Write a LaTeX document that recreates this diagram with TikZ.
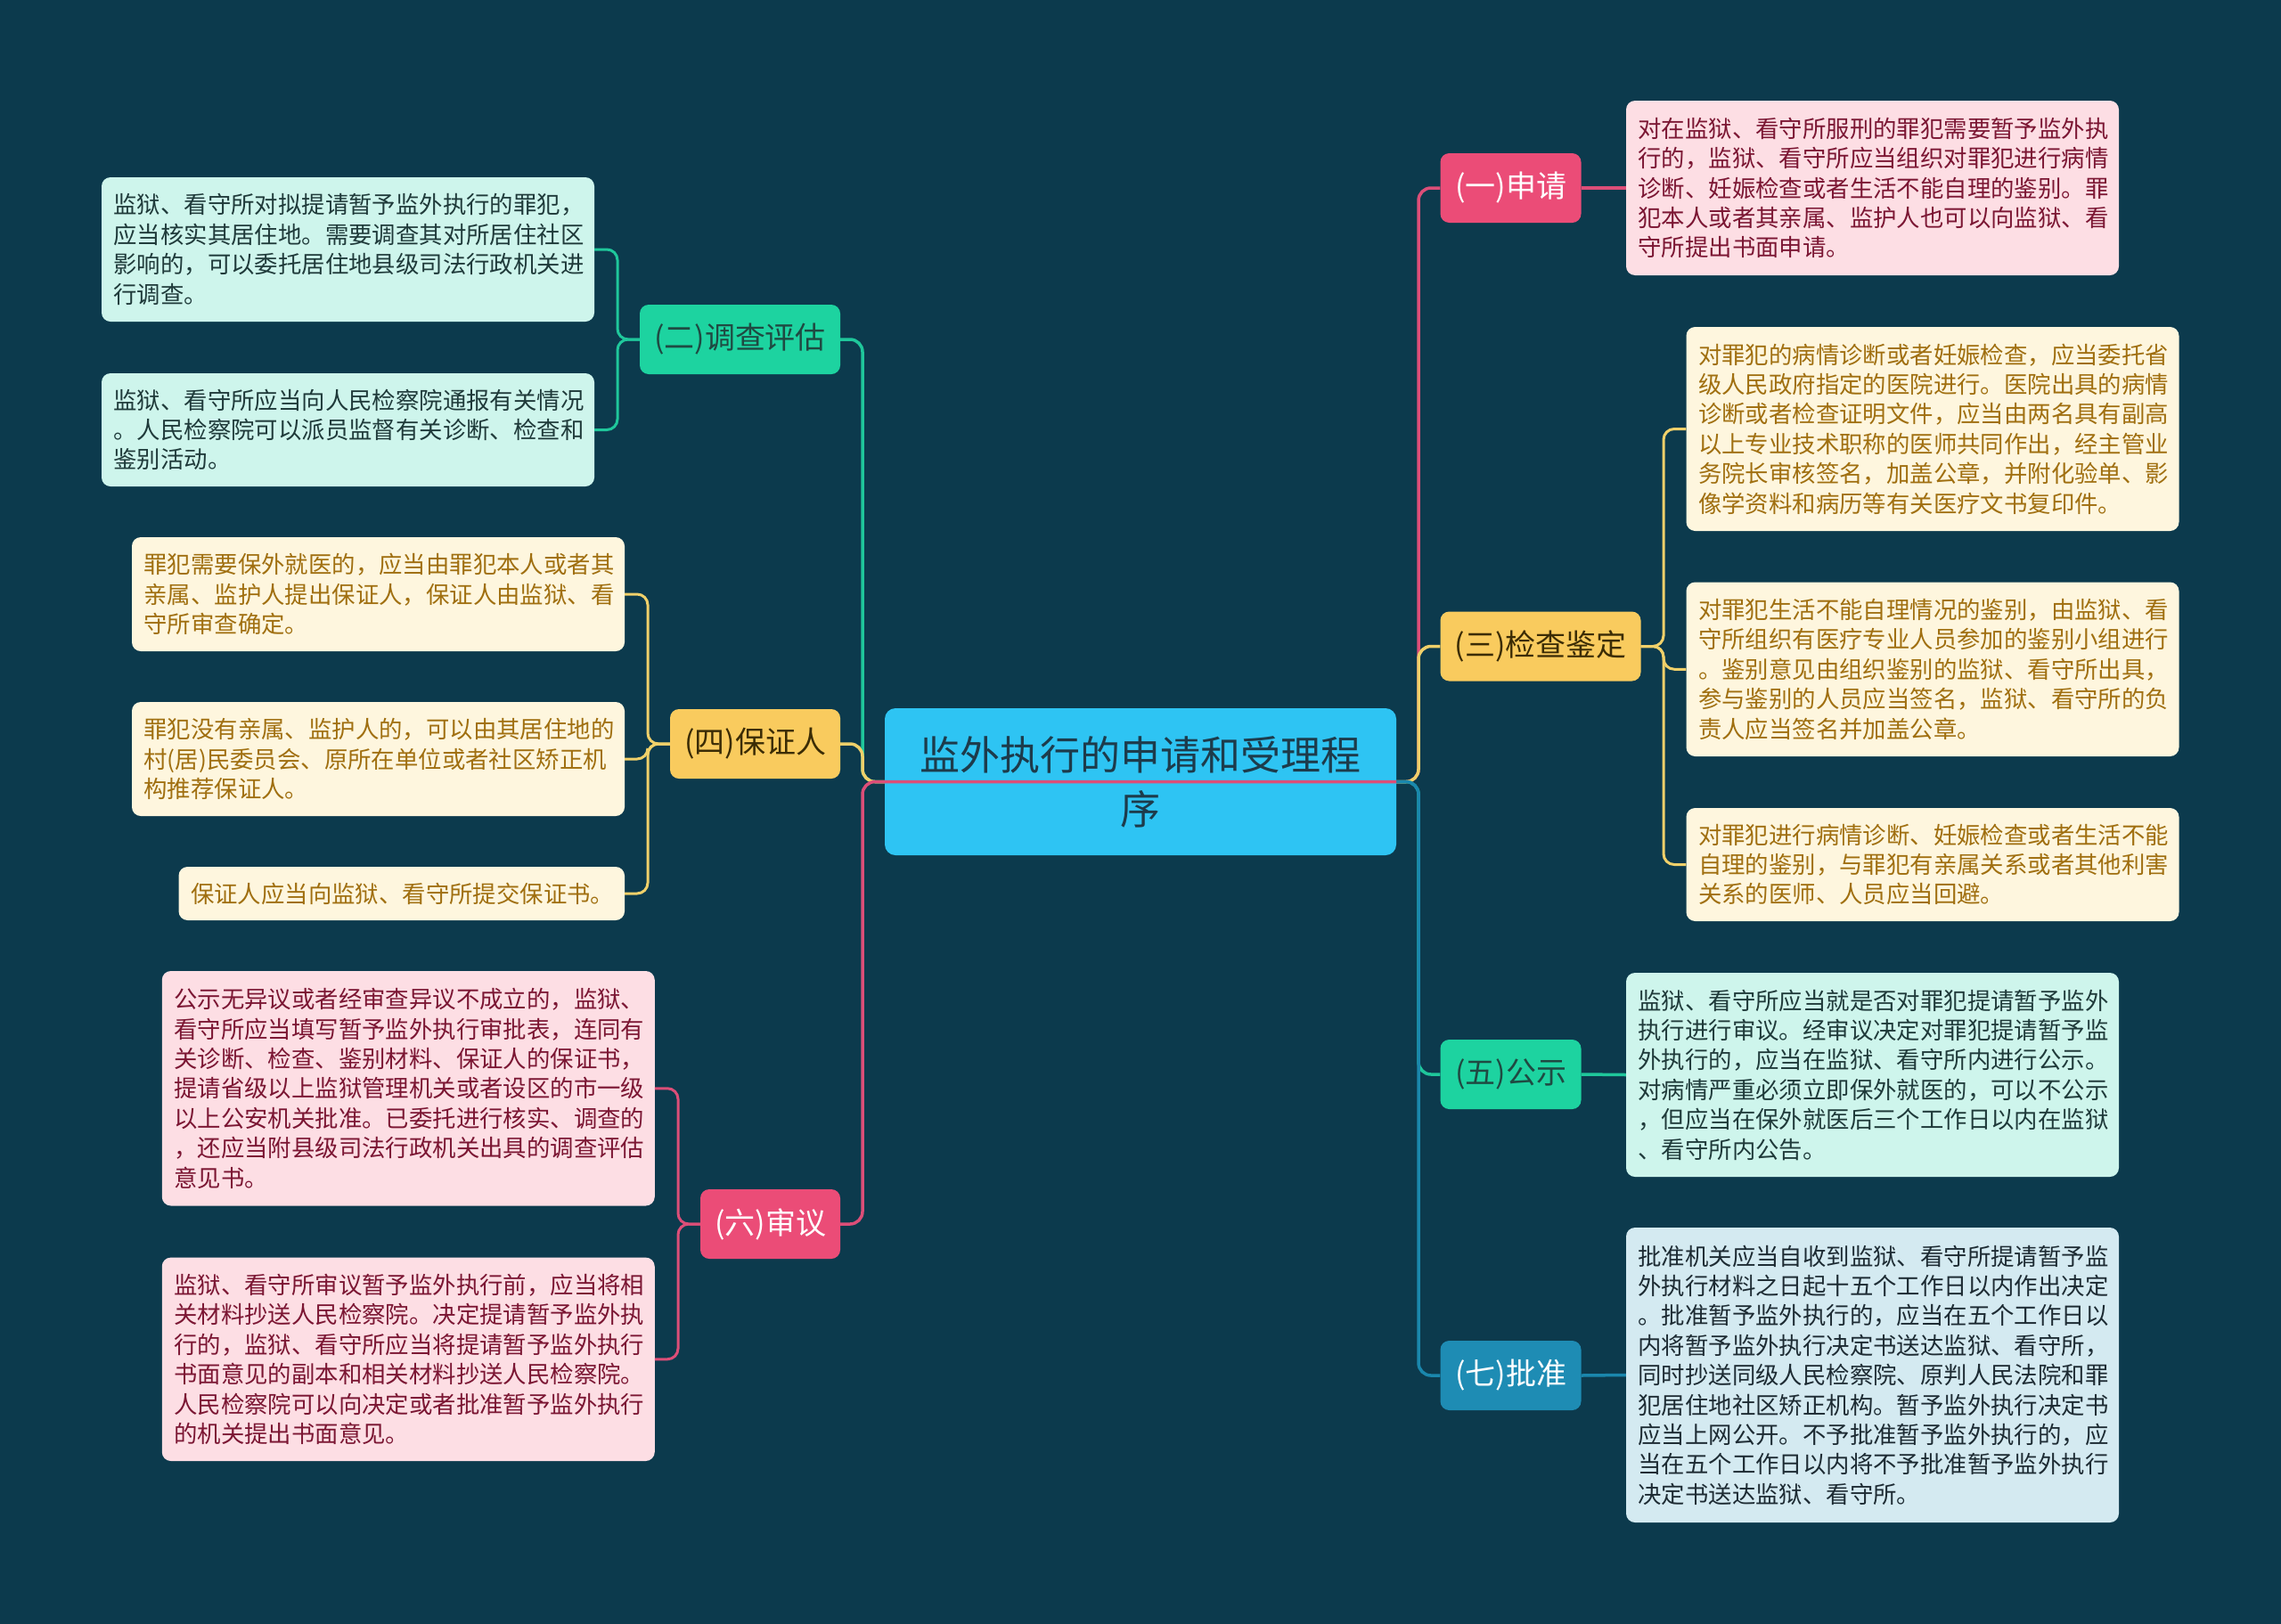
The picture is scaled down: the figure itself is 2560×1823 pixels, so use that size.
\documentclass[tikz,border=0pt]{standalone}
\usepackage{fontspec}
\setmainfont{Noto Sans CJK SC}
\usetikzlibrary{calc}
\definecolor{bg}{HTML}{0C3A4D}
\definecolor{rootc}{HTML}{2EC4F3}
\definecolor{rootT}{HTML}{1D3B4B}
\definecolor{pinkB}{HTML}{EB4C77}
\definecolor{pinkLn}{HTML}{DC4E78}
\definecolor{pinkLf}{HTML}{FDDEE4}
\definecolor{pinkT}{HTML}{7B1633}
\definecolor{greenB}{HTML}{1DD3A0}
\definecolor{greenLn}{HTML}{1FC79B}
\definecolor{greenLf}{HTML}{CEF5EC}
\definecolor{greenT}{HTML}{1F3A3A}
\definecolor{greenBT}{HTML}{1F4A42}
\definecolor{yelB}{HTML}{F9CB5E}
\definecolor{yelLn}{HTML}{F0D06A}
\definecolor{yelLf}{HTML}{FEF6DE}
\definecolor{yelT}{HTML}{A06F10}
\definecolor{yelBT}{HTML}{3B2C05}
\definecolor{blueB}{HTML}{1E8CB4}
\definecolor{blueLn}{HTML}{1A87AD}
\definecolor{blueLf}{HTML}{D4EAF1}
\definecolor{blueT}{HTML}{1D2B33}
\tikzset{
  leafbox/.style={rounded corners=10pt, inner xsep=13.5pt, inner ysep=0pt, align=left,
    font=\fontsize{26.4}{33.4}\selectfont, text width=526pt},
  brbox/.style={rounded corners=10pt, minimum height=78pt, inner xsep=0pt, inner ysep=0pt,
    font=\fontsize{34}{40}\selectfont},
  conn/.style={line width=3.5pt, rounded corners=14pt},
  subconn/.style={line width=3pt, rounded corners=12pt},
}
\begin{document}
\begin{tikzpicture}[x=1pt,y=-1pt]
\fill[bg] (0,0) rectangle (2560,1823);
\useasboundingbox (0,0) rectangle (2560,1823);

% spine coordinates
\coordinate (spL) at (968,0);
\coordinate (spR) at (1592,0);
\coordinate (s2) at (693,0);
\coordinate (s4) at (727,0);
\coordinate (s6) at (761,0);
\coordinate (s3) at (1867,0);

% root (drawn first, connectors beneath get covered except the last one)
\node[rounded corners=12pt, fill=rootc, text=rootT, minimum width=574pt, minimum height=165pt,
  inner sep=0pt, align=center, font=\fontsize{45}{61}\selectfont] (root) at (1280,877.5)
  {监外执行的申请和受理程\\序};

% branch nodes
\node[brbox, fill=pinkB, text=white, minimum width=158pt] (b1) at (1695.5,211) {(一)申请};
\node[brbox, fill=greenB, text=greenBT, minimum width=225pt] (b2) at (830.5,381) {(二)调查评估};
\node[brbox, fill=yelB, text=yelBT, minimum width=225pt] (b3) at (1729,725.5) {(三)检查鉴定};
\node[brbox, fill=yelB, text=yelBT, minimum width=191pt] (b4) at (847.5,835) {(四)保证人};
\node[brbox, fill=greenB, text=greenBT, minimum width=158pt] (b5) at (1695.5,1206) {(五)公示};
\node[brbox, fill=pinkB, text=white, minimum width=157pt] (b6) at (864.5,1374) {(六)审议};
\node[brbox, fill=blueB, text=white, minimum width=158pt] (b7) at (1695.5,1544) {(七)批准};

% leaves
\node[leafbox, fill=pinkLf, text=pinkT, minimum height=196pt] (l1) at (2101.5,211)
{对在监狱、看守所服刑的罪犯需要暂予监外执\\行的，监狱、看守所应当组织对罪犯进行病情\\诊断、妊娠检查或者生活不能自理的鉴别。罪\\犯本人或者其亲属、监护人也可以向监狱、看\\守所提出书面申请。};

\node[leafbox, fill=greenLf, text=greenT, minimum height=162pt] (l2a) at (390.5,280)
{监狱、看守所对拟提请暂予监外执行的罪犯，\\应当核实其居住地。需要调查其对所居住社区\\影响的，可以委托居住地县级司法行政机关进\\行调查。};
\node[leafbox, fill=greenLf, text=greenT, minimum height=127pt] (l2b) at (390.5,482.5)
{监狱、看守所应当向人民检察院通报有关情况\\。人民检察院可以派员监督有关诊断、检查和\\鉴别活动。};

\node[leafbox, fill=yelLf, text=yelT, minimum height=229pt] (l3a) at (2169,481.5)
{对罪犯的病情诊断或者妊娠检查，应当委托省\\级人民政府指定的医院进行。医院出具的病情\\诊断或者检查证明文件，应当由两名具有副高\\以上专业技术职称的医师共同作出，经主管业\\务院长审核签名，加盖公章，并附化验单、影\\像学资料和病历等有关医疗文书复印件。};
\node[leafbox, fill=yelLf, text=yelT, minimum height=195.5pt] (l3b) at (2169,751.25)
{对罪犯生活不能自理情况的鉴别，由监狱、看\\守所组织有医疗专业人员参加的鉴别小组进行\\。鉴别意见由组织鉴别的监狱、看守所出具，\\参与鉴别的人员应当签名，监狱、看守所的负\\责人应当签名并加盖公章。};
\node[leafbox, fill=yelLf, text=yelT, minimum height=127pt] (l3c) at (2169,970.5)
{对罪犯进行病情诊断、妊娠检查或者生活不能\\自理的鉴别，与罪犯有亲属关系或者其他利害\\关系的医师、人员应当回避。};

\node[leafbox, fill=yelLf, text=yelT, minimum height=128pt] (l4a) at (424.5,667)
{罪犯需要保外就医的，应当由罪犯本人或者其\\亲属、监护人提出保证人，保证人由监狱、看\\守所审查确定。};
\node[leafbox, fill=yelLf, text=yelT, minimum height=128pt] (l4b) at (424.5,852)
{罪犯没有亲属、监护人的，可以由其居住地的\\村(居)民委员会、原所在单位或者社区矫正机\\构推荐保证人。};
\node[leafbox, fill=yelLf, text=yelT, minimum height=60pt, text width=473.5pt] (l4c) at (450.75,1003)
{保证人应当向监狱、看守所提交保证书。};

\node[leafbox, fill=greenLf, text=greenT, minimum height=229pt] (l5) at (2101.5,1206.5)
{监狱、看守所应当就是否对罪犯提请暂予监外\\执行进行审议。经审议决定对罪犯提请暂予监\\外执行的，应当在监狱、看守所内进行公示。\\对病情严重必须立即保外就医的，可以不公示\\，但应当在保外就医后三个工作日以内在监狱\\、看守所内公告。};

\node[leafbox, fill=pinkLf, text=pinkT, minimum height=263.5pt] (l6a) at (458.25,1221.75)
{公示无异议或者经审查异议不成立的，监狱、\\看守所应当填写暂予监外执行审批表，连同有\\关诊断、检查、鉴别材料、保证人的保证书，\\提请省级以上监狱管理机关或者设区的市一级\\以上公安机关批准。已委托进行核实、调查的\\，还应当附县级司法行政机关出具的调查评估\\意见书。};
\node[leafbox, fill=pinkLf, text=pinkT, minimum height=228.4pt] (l6b) at (458.25,1525.8)
{监狱、看守所审议暂予监外执行前，应当将相\\关材料抄送人民检察院。决定提请暂予监外执\\行的，监狱、看守所应当将提请暂予监外执行\\书面意见的副本和相关材料抄送人民检察院。\\人民检察院可以向决定或者批准暂予监外执行\\的机关提出书面意见。};

\node[leafbox, fill=blueLf, text=blueT, minimum height=331pt] (l7) at (2101.5,1543.5)
{批准机关应当自收到监狱、看守所提请暂予监\\外执行材料之日起十五个工作日以内作出决定\\。批准暂予监外执行的，应当在五个工作日以\\内将暂予监外执行决定书送达监狱、看守所，\\同时抄送同级人民检察院、原判人民法院和罪\\犯居住地社区矫正机构。暂予监外执行决定书\\应当上网公开。不予批准暂予监外执行的，应\\当在五个工作日以内将不予批准暂予监外执行\\决定书送达监狱、看守所。};

% first level connectors
\begin{scope}[on background layer/.try]
\end{scope}
\draw[conn, greenLn] (root.west) -| (spL |- b2.east) -- (b2.east);
\draw[conn, yelLn] (root.west) -| (spL |- b4.east) -- (b4.east);
\draw[conn, pinkLn] (root.east) -| (spR |- b1.west) -- (b1.west);
\draw[conn, yelLn] (root.east) -| (spR |- b3.west) -- (b3.west);
\draw[conn, greenLn] (root.east) -| (spR |- b5.west) -- (b5.west);
\draw[conn, blueLn] (root.east) -| (spR |- b7.west) -- (b7.west);
\draw[conn, pinkLn] (root.east) -- (root.west) -| (spL |- b6.east) -- (b6.east);

% second level connectors
\draw[conn, pinkLn] (b1.east) -- (l1.west);
\draw[subconn, greenLn] (b2.west) -| (s2 |- l2a.east) -- (l2a.east);
\draw[subconn, greenLn] (b2.west) -| (s2 |- l2b.east) -- (l2b.east);
\draw[subconn, yelLn] (b3.east) -| (s3 |- l3a.west) -- (l3a.west);
\draw[subconn, yelLn] (b3.east) -| (s3 |- l3b.west) -- (l3b.west);
\draw[subconn, yelLn] (b3.east) -| (s3 |- l3c.west) -- (l3c.west);
\draw[subconn, yelLn] (b4.west) -| (s4 |- l4a.east) -- (l4a.east);
\draw[subconn, yelLn] (b4.west) -| (s4 |- l4b.east) -- (l4b.east);
\draw[subconn, yelLn] (b4.west) -| (s4 |- l4c.east) -- (l4c.east);
\draw[conn, greenLn] (b5.east) -- (l5.west);
\draw[subconn, pinkLn] (b6.west) -| (s6 |- l6a.east) -- (l6a.east);
\draw[subconn, pinkLn] (b6.west) -| (s6 |- l6b.east) -- (l6b.east);
\draw[conn, blueLn] (b7.east) -- (l7.west);
\end{tikzpicture}
\end{document}
